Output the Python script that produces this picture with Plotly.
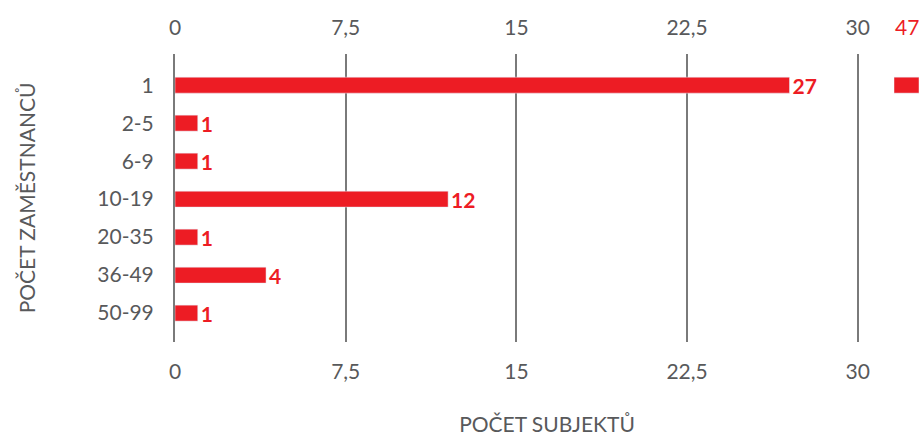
import plotly.graph_objects as go

categories = ["1", "2-5", "6-9", "10-19", "20-35", "36-49", "50-99"]
values = [27, 1, 1, 12, 1, 4, 1]
total_label = "Celkem"
total_value = 47
tick_vals = [0, 7.5, 15, 22.5, 30]
tick_text = ["0", "7,5", "15", "22,5", "30"]

RED = "#ed1c24"
GREY = "#58595b"
LINE = "#7a7a7a"
FONT = "Lato"
FS = 21

fig = go.Figure()
fig.add_trace(go.Bar(
    y=categories, x=values, orientation="h",
    marker_color=RED, width=0.42,
    text=[str(v) for v in values], textposition="outside",
    constraintext="none",
    textfont=dict(family=FONT, size=FS, color=RED, weight="bold"),
    cliponaxis=False, hoverinfo="x+y", showlegend=False,
))
# total bar (partially visible at the right edge)
fig.add_trace(go.Bar(
    y=[categories[0]], x=[total_value], orientation="h",
    marker_color=RED, width=0.42, xaxis="x2",
    showlegend=False, name=total_label,
))
# invisible trace to activate the top axis
fig.add_trace(go.Scatter(x=[0], y=[categories[0]], xaxis="x3", mode="markers",
                         marker=dict(opacity=0), showlegend=False, hoverinfo="skip"))

fig.update_layout(
    width=919, height=436,
    margin=dict(l=175, r=0, t=54, b=94),
    paper_bgcolor="white", plot_bgcolor="white",
    barmode="overlay",
    separators=", ",
    font=dict(family=FONT, size=FS, color=GREY),
    xaxis=dict(
        range=[0, 32.69], tickvals=tick_vals, ticktext=tick_text,
        showgrid=True, gridcolor=LINE, gridwidth=2,
        zeroline=False, showline=False,
        ticks="outside", ticklen=11, tickcolor="rgba(0,0,0,0)",
        tickfont=dict(size=FS, color=GREY),
        title=dict(text="POČET SUBJEKTŮ", standoff=36,
                   font=dict(size=FS, color=GREY)),
        fixedrange=True,
    ),
    xaxis3=dict(
        overlaying="x", side="top", anchor="y",
        range=[0, 32.69], tickvals=tick_vals, ticktext=tick_text,
        showgrid=False, zeroline=False, showline=False,
        ticks="outside", ticklen=10, tickcolor="rgba(0,0,0,0)",
        tickfont=dict(size=FS, color=GREY),
    ),
    xaxis2=dict(
        domain=[0.9664, 1], anchor="y", range=[0, total_value],
        showgrid=False, zeroline=False, showline=False, showticklabels=False,
    ),
    yaxis=dict(
        categoryorder="array", categoryarray=categories,
        range=[6.76, -0.82],
        showgrid=False, zeroline=False,
        showline=True, linecolor=LINE, linewidth=2,
        ticks="outside", ticklen=15, tickcolor="rgba(0,0,0,0)",
        tickfont=dict(size=FS, color=GREY),
        title=dict(text="POČET ZAMĚSTNANCŮ", standoff=56,
                   font=dict(size=FS, color=GREY)),
        fixedrange=True,
    ),
    annotations=[dict(
        text=str(total_value), xref="x2 domain", yref="paper",
        x=0.5, y=1, yshift=28, xanchor="center", yanchor="middle",
        showarrow=False, font=dict(family=FONT, size=FS, color=RED),
    )],
)

fig.write_html("out.html", config={"displayModeBar": False},
               post_script="document.body.style.margin='0';document.body.style.overflow='hidden';")
